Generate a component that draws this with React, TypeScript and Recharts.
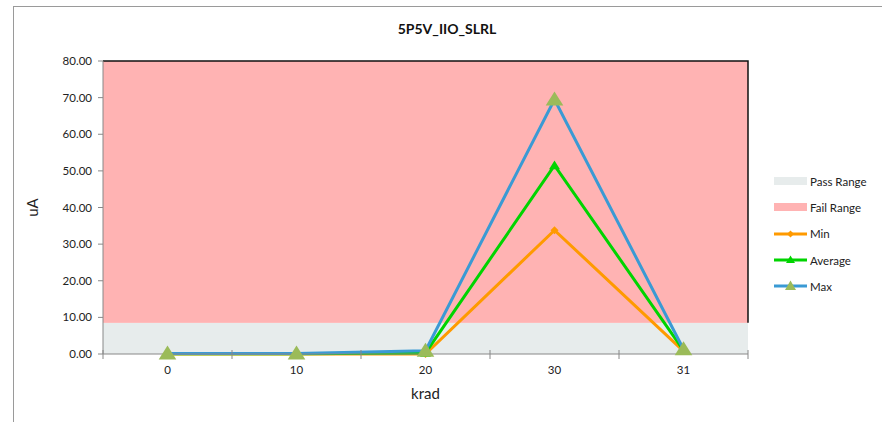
import React from 'react';
import { LineChart, Line, XAxis, YAxis, ReferenceArea } from 'recharts';

const categories = ['0', '10', '20', '30', '31'];
const minValues = [0.0, 0.0, 0.0, 33.8, 0.8];
const avgValues = [0.05, 0.05, 0.3, 51.5, 1.0];
const maxValues = [0.15, 0.15, 0.9, 69.5, 1.3];
const yTicks = [0, 10, 20, 30, 40, 50, 60, 70, 80];
const passRange = [0, 8.5];
const failRange = [8.5, 80];

const data = categories.map((c, i) => ({
  x: i,
  label: c,
  min: minValues[i],
  avg: avgValues[i],
  max: maxValues[i],
}));

const xTicks: number[] = [];
for (let i = -0.5; i <= categories.length - 0.5 + 1e-9; i += 0.5) xTicks.push(i);

const FONT = 'Lato, "Open Sans", sans-serif';
const C_MIN = '#FF9A00';
const C_AVG = '#00D400';
const C_MAX = '#3A9AD4';
const C_MAXM = '#9BBB59';
const C_PASS = '#E7ECEC';
const C_FAIL = '#FFB3B3';

const XTick = (props: any) => {
  const { x, payload } = props;
  const v = payload.value as number;
  const axisY = 354;
  if (Math.abs(v - Math.round(v)) < 1e-6) {
    const lbl = categories[Math.round(v)] ?? '';
    return (
      <text x={x} y={axisY + 20} textAnchor="middle" fontSize={11.5} fill="#222" fontFamily={FONT}>
        {lbl}
      </text>
    );
  }
  return <line x1={x} x2={x} y1={axisY - 4} y2={axisY + 5} stroke="#888" strokeWidth={1} />;
};

const triangle = (cx: number, cy: number, s: number, fill: string, key: any) => (
  <polygon
    key={key}
    points={`${cx},${cy - s} ${cx - s * 1.1},${cy + s * 0.75} ${cx + s * 1.1},${cy + s * 0.75}`}
    fill={fill}
  />
);

const MaxDot = (p: any) => triangle(p.cx, p.cy, 8, C_MAXM, `mx${p.index}`);
const AvgDot = (p: any) => triangle(p.cx, p.cy, 5, C_AVG, `av${p.index}`);
const MinDot = (p: any) => (
  <polygon
    key={`mn${p.index}`}
    points={`${p.cx},${p.cy - 4} ${p.cx + 4},${p.cy} ${p.cx},${p.cy + 4} ${p.cx - 4},${p.cy}`}
    fill={C_MIN}
  />
);

const FailShape = (p: any) => {
  const { x, y, width, height } = p;
  return (
    <g>
      <rect x={x} y={y} width={width} height={height} fill={C_FAIL} />
      <path d={`M${x},${y} L${x + width},${y} L${x + width},${y + height}`} stroke="#111" strokeWidth={1.5} fill="none" />
    </g>
  );
};

const legendItems = [
  { name: 'Pass Range', type: 'rect', color: C_PASS },
  { name: 'Fail Range', type: 'rect', color: C_FAIL },
  { name: 'Min', type: 'min', color: C_MIN },
  { name: 'Average', type: 'avg', color: C_AVG },
  { name: 'Max', type: 'max', color: C_MAX },
];

const LegendBox = () => (
  <div style={{ position: 'absolute', left: 773, top: 168, fontFamily: FONT, fontSize: 11.5, color: '#222' }}>
    {legendItems.map((it) => (
      <div key={it.name} style={{ display: 'flex', alignItems: 'center', height: 26.3 }}>
        <svg width={36} height={14} style={{ display: 'block' }}>
          {it.type === 'rect' ? (
            <rect x={1} y={3} width={33} height={8} fill={it.color} />
          ) : (
            <g>
              <line x1={1} x2={34} y1={7} y2={7} stroke={it.color} strokeWidth={3} />
              {it.type === 'min' && <polygon points="17.5,3.5 21,7 17.5,10.5 14,7" fill={C_MIN} />}
              {it.type === 'avg' && <polygon points="17.5,2.5 22,10 13,10" fill={C_AVG} />}
              {it.type === 'max' && <polygon points="17.5,1.5 23,11 12,11" fill={C_MAXM} />}
            </g>
          )}
        </svg>
        <span style={{ marginLeft: 1 }}>{it.name}</span>
      </div>
    ))}
  </div>
);

export default function App() {
  return (
    <div style={{ position: 'absolute', left: 0, top: 0, width: 882, height: 422, overflow: 'hidden', background: '#fff' }}>
      <div
        style={{
          position: 'absolute',
          left: 13,
          top: 6,
          width: 900,
          height: 440,
          border: '1px solid #9a9a9a',
          boxSizing: 'border-box',
        }}
      />
      <div
        style={{
          position: 'absolute',
          left: 0,
          width: 894,
          top: 20,
          textAlign: 'center',
          fontFamily: FONT,
          fontWeight: 'bold',
          fontSize: 14,
          color: '#111',
        }}
      >
        5P5V_IIO_SLRL
      </div>
      <div style={{ position: 'absolute', left: 0, top: 0 }}>
        <LineChart width={882} height={422} data={data} margin={{ top: 61, right: 134, bottom: 18, left: 23 }}>
          <ReferenceArea y1={passRange[0]} y2={passRange[1]} fill={C_PASS} fillOpacity={1} stroke="none" ifOverflow="extendDomain" />
          <ReferenceArea y1={failRange[0]} y2={failRange[1]} shape={FailShape} ifOverflow="extendDomain" />
          <XAxis
            dataKey="x"
            type="number"
            domain={[-0.5, categories.length - 0.5]}
            ticks={xTicks}
            interval={0}
            tickLine={false}
            tick={<XTick />}
            height={50}
            stroke="#888"
            label={{ value: 'krad', position: 'insideBottom', offset: 5, fontSize: 15, fill: '#222', fontFamily: FONT }}
          />
          <YAxis
            domain={[0, 80]}
            ticks={yTicks}
            interval={0}
            width={80}
            stroke="#888"
            tickSize={5}
            tickMargin={6}
            tickFormatter={(v: number) => v.toFixed(2)}
            tick={{ fontSize: 11.5, fill: '#222', fontFamily: FONT }}
            label={{
              value: 'uA',
              angle: -90,
              position: 'insideLeft',
              offset: 10,
              fontSize: 15,
              fill: '#222',
              fontFamily: FONT,
              style: { textAnchor: 'middle' },
            }}
          />
          <Line dataKey="min" stroke={C_MIN} strokeWidth={3} dot={MinDot} isAnimationActive={false} />
          <Line dataKey="avg" stroke={C_AVG} strokeWidth={3} dot={AvgDot} isAnimationActive={false} />
          <Line dataKey="max" stroke={C_MAX} strokeWidth={3} dot={MaxDot} isAnimationActive={false} />
        </LineChart>
      </div>
      <LegendBox />
    </div>
  );
}
